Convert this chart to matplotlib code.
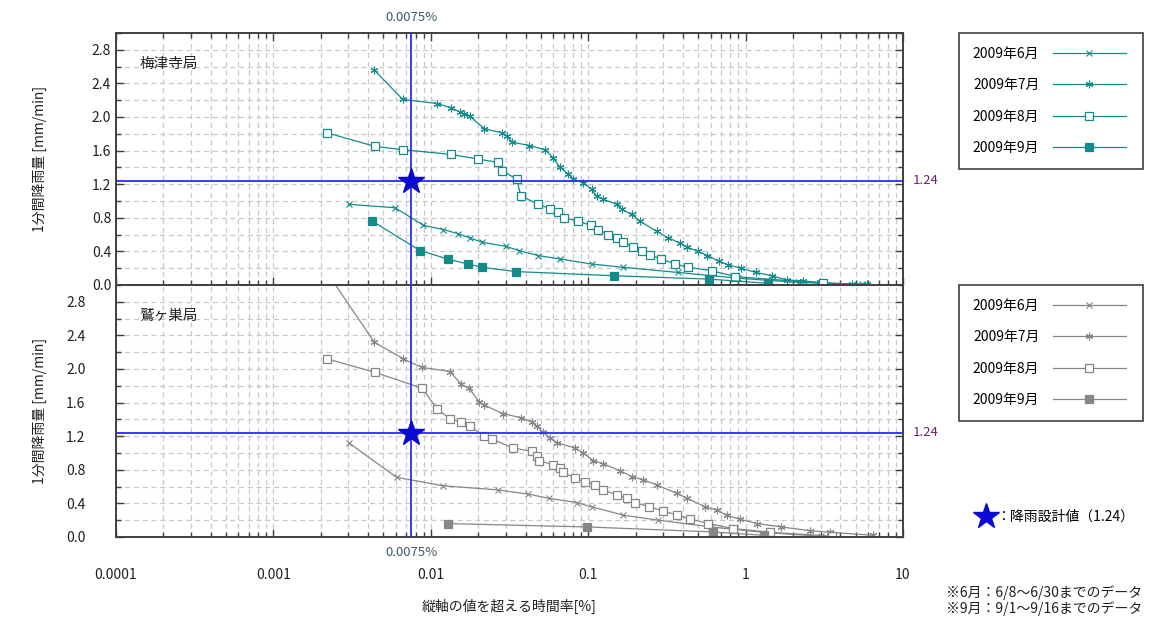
import matplotlib.pyplot as plt
from matplotlib.ticker import LogLocator, MultipleLocator, NullFormatter, FixedLocator
from matplotlib.lines import Line2D

plt.rcParams['font.family'] = ['Noto Sans CJK JP', 'DejaVu Sans']
plt.rcParams['font.size'] = 9

months = ['2009年6月', '2009年7月', '2009年8月', '2009年9月']
stations = ['梅津寺局', '鷲ヶ巣局']
design_x = 0.0075   # %
design_y = 1.24     # mm/min

# 梅津寺局
top_jun_x = [0.00302, 0.00593, 0.00897, 0.0120, 0.01496, 0.01774, 0.0211, 0.0299, 0.0363, 0.0482,
             0.0662, 0.105, 0.167, 0.370, 0.9, 2.2, 5.5]
top_jun_y = [0.96, 0.92, 0.71, 0.66, 0.61, 0.56, 0.51, 0.46, 0.41, 0.35,
             0.31, 0.25, 0.21, 0.15, 0.08, 0.03, 0.01]
top_jul_x = [0.00437, 0.00662, 0.0110, 0.0134, 0.0153, 0.0163, 0.0177, 0.0219, 0.0285, 0.0304,
             0.033, 0.0423, 0.0534, 0.060, 0.0662, 0.0748, 0.0804, 0.0931, 0.105, 0.113,
             0.125, 0.152, 0.163, 0.189, 0.213, 0.272, 0.323, 0.383, 0.427, 0.501,
             0.572, 0.681, 0.777, 0.931, 1.16, 1.47, 1.82, 2.33, 2.97, 4.72, 5.88]
top_jul_y = [2.56, 2.21, 2.16, 2.11, 2.06, 2.04, 2.01, 1.86, 1.81, 1.77,
             1.70, 1.66, 1.61, 1.51, 1.40, 1.32, 1.26, 1.22, 1.14, 1.06,
             1.02, 0.96, 0.90, 0.84, 0.76, 0.64, 0.56, 0.50, 0.45, 0.40,
             0.35, 0.28, 0.24, 0.20, 0.15, 0.11, 0.06, 0.05, 0.03, 0.01, 0.01]
top_aug_x = [0.0022, 0.00442, 0.00669, 0.01337, 0.01986, 0.0266, 0.0285, 0.0351, 0.0374, 0.0482,
             0.0572, 0.064, 0.0705, 0.0865, 0.104, 0.116, 0.134, 0.152, 0.167, 0.194,
             0.219, 0.247, 0.289, 0.356, 0.432, 0.609, 0.857, 3.12]
top_aug_y = [1.81, 1.65, 1.61, 1.555, 1.50, 1.46, 1.36, 1.26, 1.06, 0.96,
             0.91, 0.865, 0.80, 0.76, 0.71, 0.66, 0.60, 0.56, 0.51, 0.45,
             0.41, 0.36, 0.31, 0.25, 0.21, 0.17, 0.10, 0.02]
top_sep_x = [0.00425, 0.00853, 0.0128, 0.01715, 0.0212, 0.0346, 0.146, 0.588, 1.39]
top_sep_y = [0.76, 0.41, 0.31, 0.25, 0.21, 0.16, 0.11, 0.07, 0.02]

# 鷲ヶ巣局
bot_jun_x = [0.00302, 0.00607, 0.012, 0.0269, 0.0417, 0.0566, 0.0845, 0.105, 0.167, 0.279,
             0.6, 1.4, 3.0]
bot_jun_y = [1.12, 0.71, 0.61, 0.56, 0.51, 0.46, 0.41, 0.36, 0.26, 0.20,
             0.12, 0.05, 0.01]
bot_jul_x = [0.0021, 0.00437, 0.0067, 0.00875, 0.01324, 0.01556, 0.0175, 0.0203, 0.0219, 0.0286,
             0.0374, 0.0438, 0.0471, 0.0514, 0.0572, 0.0637, 0.0825, 0.0931, 0.1077, 0.125,
             0.159, 0.189, 0.224, 0.272, 0.365, 0.427, 0.553, 0.655, 0.759, 0.921,
             1.19, 1.68, 2.57, 3.44, 6.48]
bot_jul_y = [3.2, 2.32, 2.12, 2.02, 1.97, 1.82, 1.77, 1.61, 1.57, 1.47,
             1.42, 1.37, 1.32, 1.25, 1.18, 1.12, 1.06, 1.00, 0.91, 0.87,
             0.79, 0.72, 0.68, 0.62, 0.52, 0.46, 0.36, 0.32, 0.26, 0.21,
             0.16, 0.12, 0.075, 0.056, 0.02]
bot_aug_x = [0.0022, 0.00442, 0.00883, 0.011, 0.01324, 0.0155, 0.01774, 0.0218, 0.0244, 0.0331,
             0.0438, 0.0471, 0.0487, 0.0594, 0.0662, 0.0689, 0.0825, 0.0955, 0.110, 0.125,
             0.152, 0.176, 0.198, 0.244, 0.300, 0.368, 0.443, 0.580, 0.836, 1.43, 3.52]
bot_aug_y = [2.12, 1.96, 1.77, 1.52, 1.41, 1.37, 1.32, 1.20, 1.17, 1.06,
             1.02, 0.96, 0.91, 0.86, 0.82, 0.77, 0.70, 0.66, 0.62, 0.56,
             0.50, 0.46, 0.41, 0.36, 0.31, 0.26, 0.215, 0.16, 0.10, 0.056, 0.01]
bot_sep_x = [0.0128, 0.0977, 0.624, 1.31]
bot_sep_y = [0.16, 0.12, 0.06, 0.02]

top_series = [(top_jun_x, top_jun_y), (top_jul_x, top_jul_y), (top_aug_x, top_aug_y), (top_sep_x, top_sep_y)]
bot_series = [(bot_jun_x, bot_jun_y), (bot_jul_x, bot_jul_y), (bot_aug_x, bot_aug_y), (bot_sep_x, bot_sep_y)]

fig = plt.figure(figsize=(11.51, 6.17), dpi=100)
W, H = 1151, 617
ax_top = fig.add_axes([116 / W, 1 - 285 / H, 787 / W, 252 / H])
ax_bot = fig.add_axes([116 / W, 1 - 537 / H, 787 / W, 252 / H])


def marker_style(i, color):
    if i == 0:
        return dict(marker='x', ms=4.5, mew=0.8, mfc=color, mec=color)
    if i == 1:
        return dict(marker=(6, 2, 0), ms=5.5, mew=0.8, mfc=color, mec=color)
    if i == 2:
        return dict(marker='s', ms=5.5, mew=0.9, mfc='white', mec=color)
    return dict(marker='s', ms=6, mew=0.9, mfc=color, mec=color)


for ax, series, color, name in [(ax_top, top_series, '#138b8b', stations[0]),
                                (ax_bot, bot_series, '#868686', stations[1])]:
    handles = []
    for i, (xs, ys) in enumerate(series):
        h, = ax.plot(xs, ys, color=color, lw=0.9, label=months[i], **marker_style(i, color))
        handles.append(h)

    ax.set_xscale('log')
    ax.set_xlim(0.0001, 10)
    ax.set_ylim(0, 3.0)
    ax.xaxis.set_major_locator(LogLocator(base=10, numticks=10))
    ax.xaxis.set_minor_locator(LogLocator(base=10, subs=range(2, 10), numticks=10))
    ax.xaxis.set_minor_formatter(NullFormatter())
    ax.yaxis.set_major_locator(FixedLocator([0.0, 0.4, 0.8, 1.2, 1.6, 2.0, 2.4, 2.8]))
    ax.yaxis.set_minor_locator(MultipleLocator(0.2))
    ax.set_yticklabels(['0.0', '0.4', '0.8', '1.2', '1.6', '2.0', '2.4', '2.8'])
    ax.grid(True, which='both', axis='both', color='#c8c8c8', ls=(0, (4, 3)), lw=0.9)
    ax.set_axisbelow(True)
    for sp in ax.spines.values():
        sp.set_color('#404040')
        sp.set_linewidth(1.4)
    ax.tick_params(which='both', direction='in', color='#404040', labelcolor='#202020')
    ax.tick_params(which='major', length=6, width=1.0, labelsize=10)
    ax.tick_params(which='minor', length=3.5, width=1.0)
    ax.set_ylabel('1分間降雨量 [mm/min]', fontsize=10, color='#202020')
    ax.yaxis.set_label_coords(-0.088, 0.5)

    ax.axhline(design_y, color='#2a2aff', lw=1.3, zorder=4)
    ax.axvline(design_x, color='#2a2aff', lw=1.3, zorder=4)
    ax.plot([design_x], [design_y], marker='*', ms=19, color='#0a0ad0', zorder=5, clip_on=False)
    ax.text(0.03, 0.86, name, transform=ax.transAxes, fontsize=10.5, color='#202020')
    ax.text(1.012, design_y, '1.24', transform=ax.get_yaxis_transform(), va='center',
            fontsize=9.5, color='#702070')

    leg_top = 33 if ax is ax_top else 285
    leg = fig.legend(handles=handles, loc='upper left',
                     bbox_to_anchor=(959 / W, 1 - leg_top / H - 0.2, 184 / W, 0.2), mode='expand',
                     markerfirst=False, handlelength=5.2, handletextpad=1.0, labelspacing=1.25,
                     borderpad=1.0, borderaxespad=0, fancybox=False, fontsize=10,
                     edgecolor='#404040', framealpha=1)
    leg.get_frame().set_linewidth(1.2)

ax_top.tick_params(which='both', top=True, right=True, bottom=True, labelbottom=False)
ax_bot.tick_params(which='both', top=False, right=True, bottom=True, labelbottom=True, pad=22)

ax_top.text(design_x, 1.035, '0.0075%', transform=ax_top.get_xaxis_transform(), ha='center',
            va='bottom', fontsize=9.5, color='#3a5a6a')
ax_bot.text(design_x, -0.035, '0.0075%', transform=ax_bot.get_xaxis_transform(), ha='center',
            va='top', fontsize=9.5, color='#3a5a6a')
ax_bot.xaxis.set_major_formatter(plt.FuncFormatter(lambda v, p: f'{v:g}'))
fig.text(0.5 * (116 + 903) / W, 1 - 606 / H, '縦軸の値を超える時間率[%]', fontsize=10,
         ha='center', va='center', color='#202020')

star = Line2D([], [], ls='none', marker='*', ms=19, color='#0a0ad0')
fig.legend(handles=[star], labels=['：降雨設計値（1.24）'], loc='center left',
           bbox_to_anchor=(972 / W, 1 - 517 / H), frameon=False, handlelength=1.2,
           handletextpad=0.1, fontsize=10, borderaxespad=0)

fig.text(946 / W, 1 - 593 / H, '※6月：6/8～6/30までのデータ', fontsize=10, va='center', color='#202020')
fig.text(946 / W, 1 - 609 / H, '※9月：9/1～9/16までのデータ', fontsize=10, va='center', color='#202020')

fig.savefig('out.png', dpi=100)
